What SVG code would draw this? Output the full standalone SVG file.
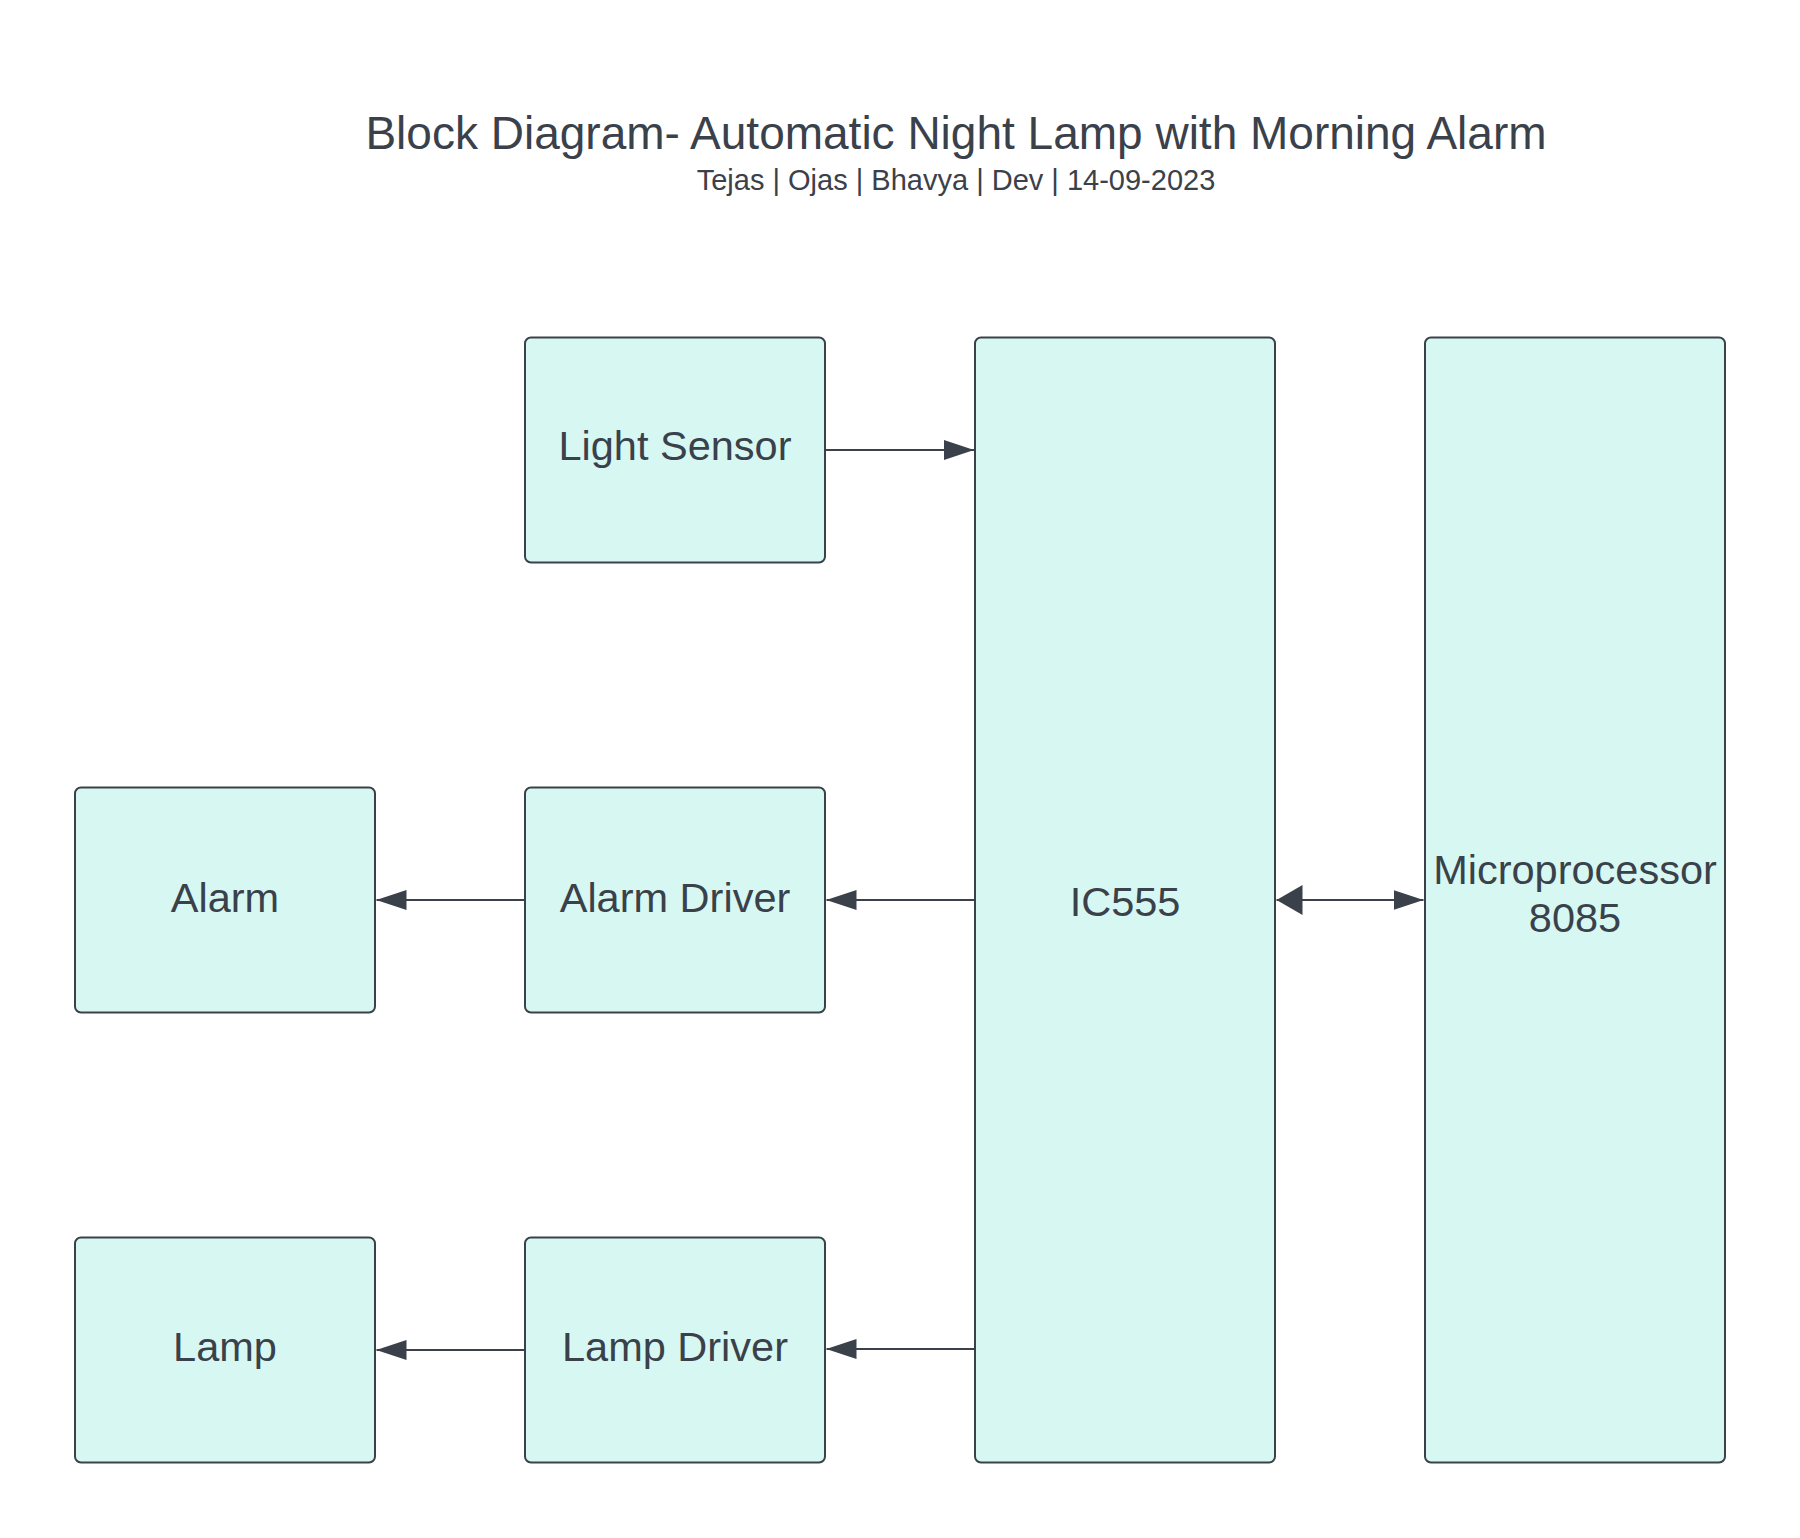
<svg xmlns="http://www.w3.org/2000/svg" width="1800" height="1538" viewBox="0 0 1800 1538">
  <style>
    .box { fill: #d7f8f2; stroke: #3a414a; stroke-width: 2; }
    .lbl { font-family: "Liberation Sans", Arial, sans-serif; font-size: 41.5px; fill: #3a414a; text-anchor: middle; }
    .title { font-family: "Liberation Sans", Arial, sans-serif; font-size: 46px; fill: #3a414a; text-anchor: middle; }
    .sub { font-family: "Liberation Sans", Arial, sans-serif; font-size: 29px; fill: #3a414a; text-anchor: middle; }
    .conn { stroke: #3a414a; stroke-width: 2; fill: none; }
  </style>
  <defs>
    <marker id="arrow" viewBox="0 0 30 20" markerWidth="30" markerHeight="20" refX="30" refY="10" orient="auto-start-reverse" markerUnits="userSpaceOnUse">
      <polygon points="0,0 30,10 0,20" fill="#3a414a"/>
    </marker>
    <marker id="arrowBig" viewBox="0 0 26 30" markerWidth="26" markerHeight="30" refX="26" refY="15" orient="auto-start-reverse" markerUnits="userSpaceOnUse">
      <polygon points="0,0 26,15 0,30" fill="#3a414a"/>
    </marker>
  </defs>
  <rect width="1800" height="1538" fill="#ffffff"/>

  <g id="title">
    <text class="title" x="956" y="149">Block Diagram- Automatic Night Lamp with Morning Alarm</text>
    <text class="sub" x="956" y="189.5">Tejas | Ojas | Bhavya | Dev | 14-09-2023</text>
  </g>

  <g id="connectors">
    <line class="conn" x1="825" y1="450" x2="974" y2="450" marker-end="url(#arrow)"/>
    <line class="conn" x1="975" y1="900" x2="826.5" y2="900" marker-end="url(#arrow)"/>
    <line class="conn" x1="525" y1="900" x2="376.5" y2="900" marker-end="url(#arrow)"/>
    <line class="conn" x1="975" y1="1349" x2="826.5" y2="1349" marker-end="url(#arrow)"/>
    <line class="conn" x1="525" y1="1350" x2="376.5" y2="1350" marker-end="url(#arrow)"/>
    <line class="conn" x1="1276.5" y1="900" x2="1423.5" y2="900" marker-start="url(#arrowBig)" marker-end="url(#arrow)"/>
  </g>

  <g id="light-sensor">
    <rect class="box" x="525" y="337.5" width="300" height="225" rx="6"/>
    <text class="lbl" x="675" y="460">Light Sensor</text>
  </g>
  <g id="ic555">
    <rect class="box" x="975" y="337.5" width="300" height="1125" rx="6"/>
    <text class="lbl" x="1125" y="916">IC555</text>
  </g>
  <g id="microprocessor">
    <rect class="box" x="1425" y="337.5" width="300" height="1125" rx="6"/>
    <text class="lbl" x="1575" y="883.5">Microprocessor</text>
    <text class="lbl" x="1575" y="931.5">8085</text>
  </g>
  <g id="alarm">
    <rect class="box" x="75" y="787.5" width="300" height="225" rx="6"/>
    <text class="lbl" x="225" y="911.5">Alarm</text>
  </g>
  <g id="alarm-driver">
    <rect class="box" x="525" y="787.5" width="300" height="225" rx="6"/>
    <text class="lbl" x="675" y="911.5">Alarm Driver</text>
  </g>
  <g id="lamp">
    <rect class="box" x="75" y="1237.5" width="300" height="225" rx="6"/>
    <text class="lbl" x="225" y="1361">Lamp</text>
  </g>
  <g id="lamp-driver">
    <rect class="box" x="525" y="1237.5" width="300" height="225" rx="6"/>
    <text class="lbl" x="675" y="1361">Lamp Driver</text>
  </g>
</svg>
